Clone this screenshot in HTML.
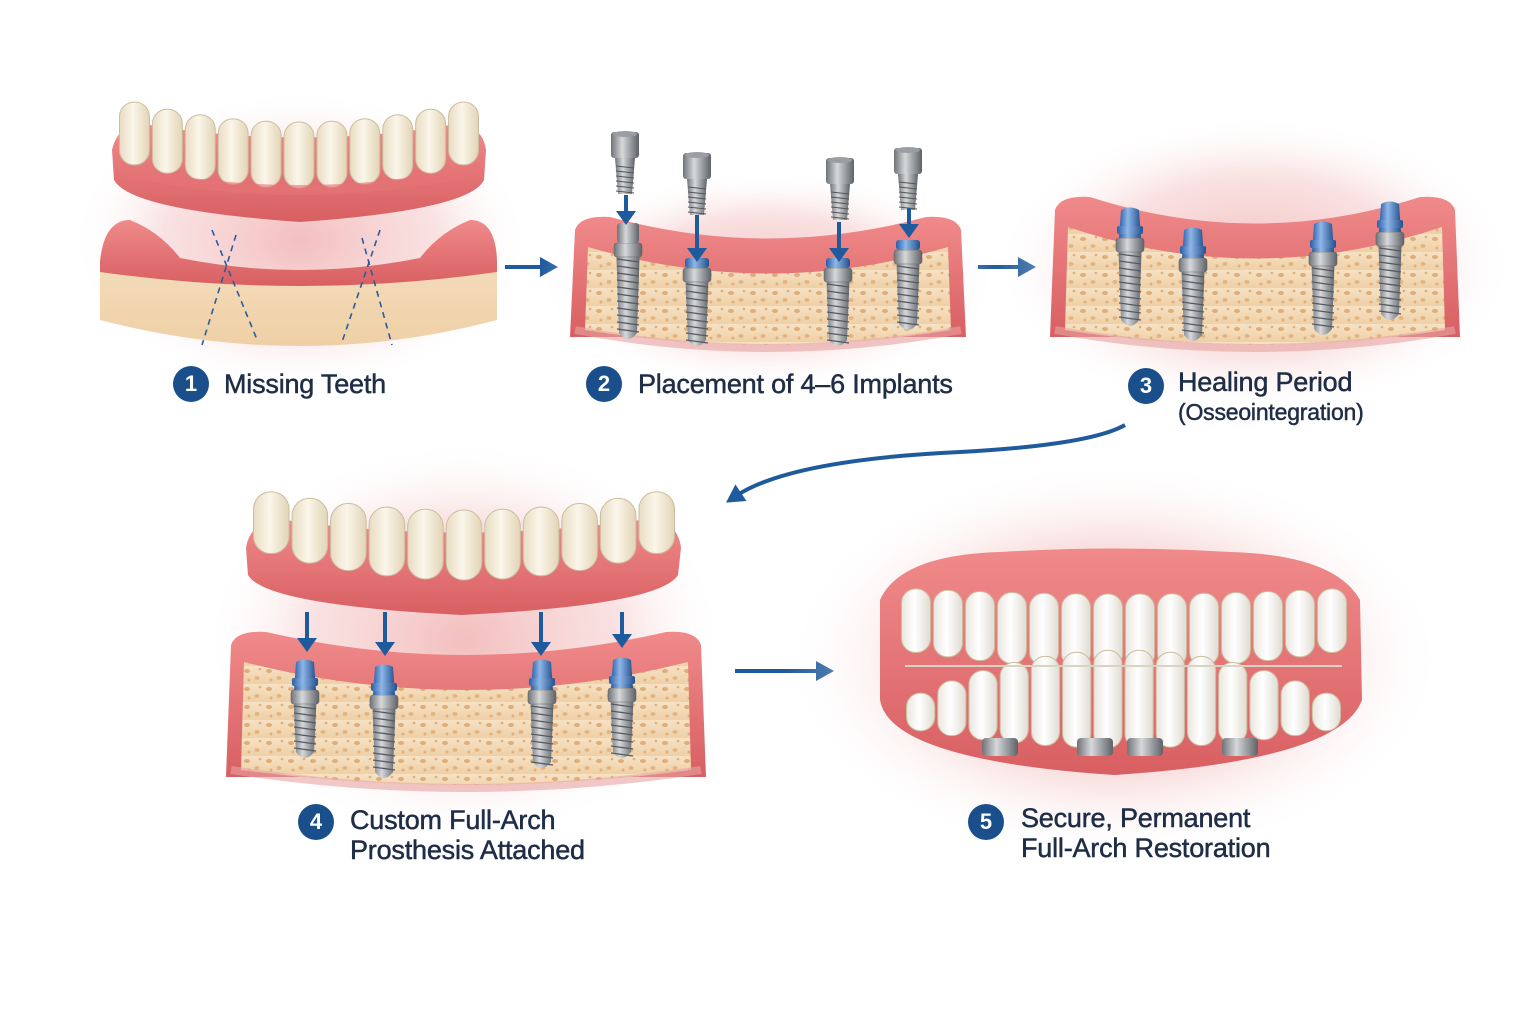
<!DOCTYPE html>
<html><head><meta charset="utf-8">
<style>
html,body{margin:0;padding:0;background:#fff;}
#c{position:relative;width:1536px;height:1024px;overflow:hidden;background:#fff;font-family:"Liberation Sans",sans-serif;}
.lbl{position:absolute;color:#1f2d47;font-size:27px;line-height:30px;letter-spacing:-0.2px;-webkit-text-stroke:0.5px #1f2d47;}
.num{position:absolute;width:36px;height:36px;border-radius:50%;background:#1b4f8c;color:#fff;font-size:22px;font-weight:bold;text-align:center;line-height:36px;}
.sm{font-size:23px;}
</style></head><body>
<div id="c">
<svg id="s" width="1536" height="1024" xmlns="http://www.w3.org/2000/svg">
<defs>
<radialGradient id="glow" cx="50%" cy="50%" r="50%">
<stop offset="0" stop-color="#f2b7b7" stop-opacity="0.9"/><stop offset="0.6" stop-color="#f6cfcf" stop-opacity="0.6"/><stop offset="1" stop-color="#fff" stop-opacity="0"/></radialGradient>
<linearGradient id="gum" x1="0" y1="0" x2="0" y2="1"><stop offset="0" stop-color="#f08a8a"/><stop offset="1" stop-color="#d85f62"/></linearGradient>
<linearGradient id="bone" x1="0" y1="0" x2="0" y2="1"><stop offset="0" stop-color="#f6e2c4"/><stop offset="1" stop-color="#efd0a6"/></linearGradient>
<linearGradient id="tooth" x1="0" y1="0" x2="1" y2="0"><stop offset="0" stop-color="#e8dcc2"/><stop offset="0.45" stop-color="#fbf6ea"/><stop offset="1" stop-color="#e2d4b6"/></linearGradient>
<linearGradient id="wtooth" x1="0" y1="0" x2="1" y2="0"><stop offset="0" stop-color="#e9e6de"/><stop offset="0.45" stop-color="#ffffff"/><stop offset="1" stop-color="#e0dcd2"/></linearGradient>
<linearGradient id="ti" x1="0" y1="0" x2="1" y2="0"><stop offset="0" stop-color="#6f7378"/><stop offset="0.4" stop-color="#d6d8da"/><stop offset="1" stop-color="#5e6267"/></linearGradient>
<linearGradient id="blue" x1="0" y1="0" x2="1" y2="0"><stop offset="0" stop-color="#2a5ea8"/><stop offset="0.4" stop-color="#8fb6e6"/><stop offset="1" stop-color="#22508f"/></linearGradient>
<pattern id="pores" width="22" height="18" patternUnits="userSpaceOnUse">
<rect width="22" height="18" fill="url(#bone)"/>
<ellipse cx="5" cy="5" rx="3" ry="2" fill="#dfae78"/><ellipse cx="15" cy="12" rx="2.5" ry="2" fill="#e3b583"/><circle cx="18" cy="3" r="1.3" fill="#dfae78"/><circle cx="7" cy="14" r="1.5" fill="#e0b07c"/></pattern>
<marker id="ah" markerWidth="18" markerHeight="20" refX="6" refY="10" orient="auto" markerUnits="userSpaceOnUse"><path d="M0,0 L18,10 L0,20 z" fill="#1f5a9c"/></marker>
</defs>
<g id="g"></g>
</svg>
<div class="num" style="left:173px;top:366px">1</div><div class="lbl" style="left:224px;top:369px">Missing Teeth</div>
<div class="num" style="left:586px;top:366px">2</div><div class="lbl" style="left:638px;top:369px">Placement of 4–6 Implants</div>
<div class="num" style="left:1128px;top:368px">3</div><div class="lbl" style="left:1178px;top:367px">Healing Period</div><div class="lbl sm" style="left:1178px;top:397px">(Osseointegration)</div>
<div class="num" style="left:298px;top:804px">4</div><div class="lbl" style="left:350px;top:805px">Custom Full-Arch<br>Prosthesis Attached</div>
<div class="num" style="left:968px;top:804px">5</div><div class="lbl" style="left:1021px;top:803px">Secure, Permanent<br>Full-Arch Restoration</div>
</div>
<script>
var g=document.getElementById('g'),h='';
function A(s){h+=s;}
function glow(cx,cy,rx,ry){A('<ellipse cx="'+cx+'" cy="'+cy+'" rx="'+rx+'" ry="'+ry+'" fill="url(#glow)"/>');}
function teeth(x0,x1,topEnd,topMid,botEnd,botMid,n,fill){
 var w=(x1-x0)/n;
 for(var i=0;i<n;i++){var cx=x0+w*(i+0.5);var t=Math.abs((cx-(x0+x1)/2)/((x1-x0)/2));
 var top=topMid+(topEnd-topMid)*t*t, bot=botMid+(botEnd-botMid)*t*t;
 A('<rect x="'+(cx-w/2+1.5)+'" y="'+top+'" width="'+(w-3)+'" height="'+(bot-top)+'" rx="'+(w/2-2)+'" fill="'+fill+'" stroke="#cbbd9f" stroke-width="1"/>');}
}
function implant(x,y,h,cap,cw){
 cw=cw||24;
 A('<path d="M'+(x-cw/2)+','+y+' L'+(x+cw/2)+','+y+' L'+(x+cw/2-3)+','+(y+h-8)+' Q'+x+','+(y+h+4)+' '+(x-cw/2+3)+','+(y+h-8)+' z" fill="url(#ti)"/>');
 for(var k=y+16;k<y+h-6;k+=7)A('<line x1="'+(x-cw/2+1)+'" y1="'+k+'" x2="'+(x+cw/2-1)+'" y2="'+(k+3)+'" stroke="#555a60" stroke-width="1.3"/>');
 A('<rect x="'+(x-cw/2-2)+'" y="'+y+'" width="'+(cw+4)+'" height="14" rx="3" fill="url(#ti)" stroke="#666" stroke-width="0.6"/>');
 if(cap=='blue'){A('<path d="M'+(x-11)+','+y+' L'+(x-9)+','+(y-28)+' Q'+x+','+(y-33)+' '+(x+9)+','+(y-28)+' L'+(x+11)+','+y+' z" fill="url(#blue)"/><rect x="'+(x-13)+'" y="'+(y-12)+'" width="26" height="8" rx="2" fill="url(#blue)"/>');}
 else if(cap=='ring'){A('<rect x="'+(x-12)+'" y="'+(y-10)+'" width="24" height="10" rx="3" fill="url(#blue)"/>');}
 else if(cap=='ti'){A('<rect x="'+(x-11)+'" y="'+(y-20)+'" width="22" height="20" rx="3" fill="url(#ti)"/>');}
}
function abut(x,y){
 A('<rect x="'+(x-14)+'" y="'+y+'" width="28" height="26" rx="3" fill="url(#ti)"/><ellipse cx="'+x+'" cy="'+(y+2)+'" rx="12" ry="3" fill="#9a9ea3"/>');
 A('<path d="M'+(x-10)+','+(y+26)+' L'+(x+10)+','+(y+26)+' L'+(x+7)+','+(y+62)+' L'+(x-7)+','+(y+62)+' z" fill="url(#ti)"/>');
 for(var k=y+34;k<y+60;k+=5)A('<line x1="'+(x-9)+'" y1="'+k+'" x2="'+(x+9)+'" y2="'+(k+2)+'" stroke="#555" stroke-width="1"/>');
}
function bluearrow(x,y0,y1){A('<line x1="'+x+'" y1="'+y0+'" x2="'+x+'" y2="'+(y1-10)+'" stroke="#1f5a9c" stroke-width="4"/><path d="M'+(x-10)+','+(y1-14)+' L'+(x+10)+','+(y1-14)+' L'+x+','+y1+' z" fill="#1f5a9c"/>');}
function block(x0,x1,yTopEnd,yTopMid,yBot){
 A('<path d="M'+x0+','+(yBot-15)+' L'+(x0+5)+','+(yTopEnd+5)+' Q'+(x0+10)+','+(yTopEnd-10)+' '+(x0+40)+','+(yTopEnd-8)+' Q'+((x0+x1)/2)+','+(yTopMid+10)+' '+(x1-40)+','+(yTopEnd-8)+' Q'+(x1-10)+','+(yTopEnd-10)+' '+(x1-5)+','+(yTopEnd+5)+' L'+x1+','+(yBot-15)+' z" fill="url(#gum)"/>');
 A('<path d="M'+(x0+18)+','+(yTopEnd+22)+' Q'+((x0+x1)/2)+','+(yTopMid+50)+' '+(x1-18)+','+(yTopEnd+22)+' L'+(x1-15)+','+(yBot-22)+' Q'+((x0+x1)/2)+','+(yBot+8)+' '+(x0+15)+','+(yBot-22)+' z" fill="url(#pores)"/>');
 A('<path d="M'+(x0+5)+','+(yBot-22)+' Q'+((x0+x1)/2)+','+(yBot+14)+' '+(x1-5)+','+(yBot-22)+'" fill="none" stroke="#e8a3a3" stroke-width="8" opacity="0.6"/>');
}
glow(300,240,230,150);
A('<path d="M112,150 Q118,122 150,125 Q300,150 450,125 Q482,122 486,150 L484,180 Q470,210 300,222 Q130,210 114,180 z" fill="url(#gum)"/>');
teeth(118,480,98,122,160,188,11,'url(#tooth)');
A('<path d="M118,165 Q300,205 480,165 L480,175 Q300,215 118,175 z" fill="#e67478" opacity="0.6"/>');
A('<path d="M100,262 Q104,220 130,220 Q160,232 180,258 Q300,282 420,258 Q440,232 470,220 Q496,220 497,262 L497,320 Q300,372 100,320 z" fill="url(#bone)"/>');
A('<path d="M100,262 Q104,220 130,220 Q160,232 180,258 Q300,282 420,258 Q440,232 470,220 Q496,220 497,262 L497,272 Q300,300 100,272 z" fill="url(#gum)"/>');
A('<line x1="212" y1="230" x2="258" y2="342" stroke="#2b5c9e" stroke-width="1.6" stroke-dasharray="6,5"/><line x1="236" y1="235" x2="202" y2="345" stroke="#2b5c9e" stroke-width="1.6" stroke-dasharray="6,5"/>');
A('<line x1="380" y1="230" x2="342" y2="342" stroke="#2b5c9e" stroke-width="1.6" stroke-dasharray="6,5"/><line x1="362" y1="238" x2="392" y2="345" stroke="#2b5c9e" stroke-width="1.6" stroke-dasharray="6,5"/>');
A('<line x1="505" y1="267" x2="546" y2="267" stroke="#1f5a9c" stroke-width="4" marker-end="url(#ah)"/>');
A('<line x1="978" y1="267" x2="1024" y2="267" stroke="#1f5a9c" stroke-width="4" marker-end="url(#ah)"/>');
glow(768,280,230,110);
block(570,966,225,250,352);
implant(628,243,98,'ti');implant(697,268,80,'ring');implant(838,268,80,'ring');implant(908,250,82,'ring');
abut(625,132);abut(697,153);abut(840,158);abut(908,148);
bluearrow(626,195,225);bluearrow(697,215,262);bluearrow(839,222,262);bluearrow(909,208,238);
glow(1255,265,260,150);
block(1050,1460,205,240,352);
implant(1130,238,90,'blue');implant(1193,258,85,'blue');implant(1323,252,85,'blue');implant(1390,232,90,'blue');
A('<path d="M1125,425 Q1090,445 960,452 Q790,460 736,496" fill="none" stroke="#1f5a9c" stroke-width="4" marker-end="url(#ah)"/>');
glow(465,640,260,200);
A('<path d="M246,548 Q250,520 285,520 Q460,545 640,520 Q678,518 681,548 L678,575 Q660,605 462,615 Q265,605 248,575 z" fill="url(#gum)"/>');
teeth(252,676,488,510,548,580,11,'url(#tooth)');
block(226,706,640,668,792);
implant(305,690,70,'blue');implant(384,695,85,'blue');implant(542,690,80,'blue');implant(622,688,72,'blue');
bluearrow(307,612,652);bluearrow(385,612,656);bluearrow(541,612,656);bluearrow(622,612,648);
A('<line x1="735" y1="671" x2="822" y2="671" stroke="#1f5a9c" stroke-width="4" marker-end="url(#ah)"/>');
glow(1115,660,330,200);
A('<path d="M880,600 Q900,555 1000,552 Q1115,545 1230,552 Q1335,555 1360,600 L1362,700 Q1340,760 1115,775 Q890,760 880,700 z" fill="url(#gum)"/>');
teeth(900,1348,588,594,650,668,14,'url(#wtooth)');
teeth(905,1342,700,650,728,748,14,'url(#wtooth)');
A('<line x1="905" y1="666" x2="1342" y2="666" stroke="#d9d3c4" stroke-width="2"/>');
[1000,1095,1145,1240].forEach(function(x){A('<rect x="'+(x-18)+'" y="738" width="36" height="18" rx="4" fill="url(#ti)"/>');});
g.innerHTML=h;
</script>
</body></html>
